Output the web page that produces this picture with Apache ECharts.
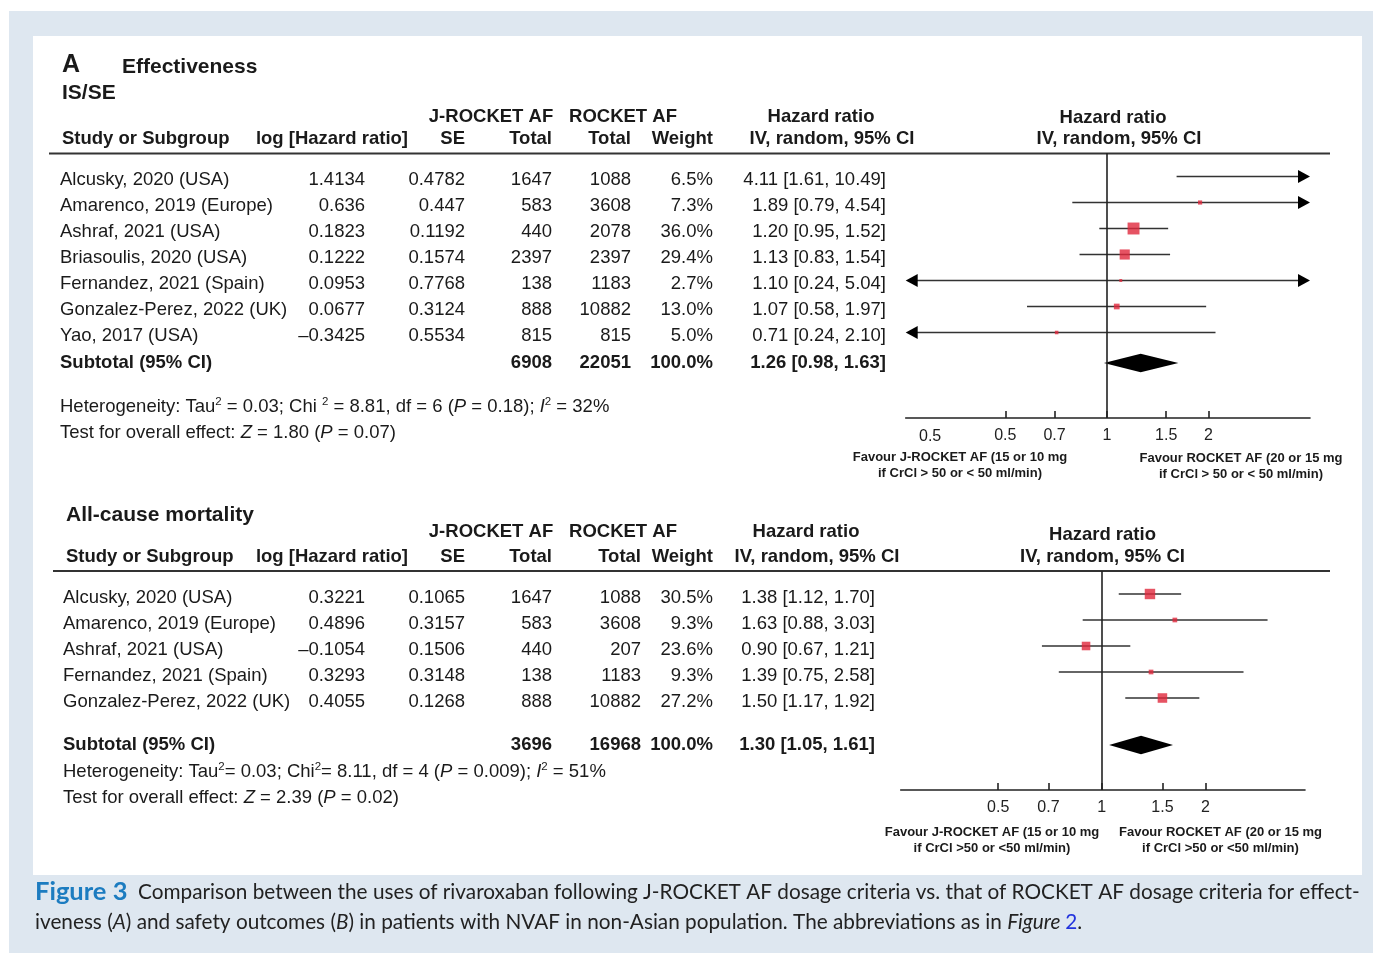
<!DOCTYPE html>
<html><head><meta charset="utf-8">
<script src="https://cdn.jsdelivr.net/npm/echarts@6/dist/echarts.min.js"></script>
<style>html,body{margin:0;padding:0;background:#fff}#c{width:1373px;height:953px}</style>
</head><body><div id="c"></div>
<script>
// ---------- Panel A: Effectiveness (IS/SE) ----------
const studiesA = ['Alcusky, 2020 (USA)', 'Amarenco, 2019 (Europe)', 'Ashraf, 2021 (USA)', 'Briasoulis, 2020 (USA)', 'Fernandez, 2021 (Spain)', 'Gonzalez-Perez, 2022 (UK)', 'Yao, 2017 (USA)'];
const logHRA = ['1.4134', '0.636', '0.1823', '0.1222', '0.0953', '0.0677', '\u20130.3425'];
const seA = ['0.4782', '0.447', '0.1192', '0.1574', '0.7768', '0.3124', '0.5534'];
const jTotalA = [1647, 583, 440, 2397, 138, 888, 815];
const rTotalA = [1088, 3608, 2078, 2397, 1183, 10882, 815];
const weightA = [6.5, 7.3, 36.0, 29.4, 2.7, 13.0, 5.0];
const hrA = [4.11, 1.89, 1.20, 1.13, 1.10, 1.07, 0.71];
const loA = [1.61, 0.79, 0.95, 0.83, 0.24, 0.58, 0.24];
const hiA = [10.49, 4.54, 1.52, 1.54, 5.04, 1.97, 2.10];
const subA = [6908, 22051, 100.0, 1.26, 0.98, 1.63]; // jTotal, rTotal, weight, hr, lo, hi

// ---------- Panel B: All-cause mortality ----------
const studiesB = ['Alcusky, 2020 (USA)', 'Amarenco, 2019 (Europe)', 'Ashraf, 2021 (USA)', 'Fernandez, 2021 (Spain)', 'Gonzalez-Perez, 2022 (UK)'];
const logHRB = ['0.3221', '0.4896', '\u20130.1054', '0.3293', '0.4055'];
const seB = ['0.1065', '0.3157', '0.1506', '0.3148', '0.1268'];
const jTotalB = [1647, 583, 440, 138, 888];
const rTotalB = [1088, 3608, 207, 1183, 10882];
const weightB = [30.5, 9.3, 23.6, 9.3, 27.2];
const hrB = [1.38, 1.63, 0.90, 1.39, 1.50];
const loB = [1.12, 0.88, 0.67, 0.75, 1.17];
const hiB = [1.70, 3.03, 1.21, 2.58, 1.92];
const subB = [3696, 16968, 100.0, 1.30, 1.05, 1.61];

const tickLabels = [0.5, 0.7, 1, 1.5, 2];

// ---------- layout ----------
const FONT = '"Liberation Sans", Arial, Helvetica, sans-serif';
const FS = 18.5;
const INK = '#1a1a1a';
const RED = '#e0283c';

const LA = {gridLeft: 905.7, gridW: 404.3, gridTop: 153, gridBottom: 418, row0: 176.5, rowH: 26, subY: 363, shift: 3.5,
  xmin: -1.373, xmax: 1.387,
  cols: {study: 60, log: 365, se: 465, j: 552, r: 631, w: 713, ci: 886}};
const LB = {gridLeft: 900.7, gridW: 404.3, gridTop: 571, gridBottom: 790, row0: 594, rowH: 26, subY: 745, shift: 4,
  xmin: -1.345, xmax: 1.359,
  cols: {study: 63, log: 365, se: 465, j: 552, r: 641, w: 713, ci: 875}};
[LA, LB].forEach(L => {
  L.ymin = -(L.row0 - L.gridTop) / L.rowH;
  L.ymax = L.ymin + (L.gridBottom - L.gridTop) / L.rowH;
  L.subIdx = (L.subY - L.row0) / L.rowH;
});

const G = [];
function T(x, y, text, o) {
  o = o || {};
  const st = {
    text: text, fill: o.color || INK, fontSize: o.size || FS, fontFamily: o.family || FONT,
    fontWeight: o.bold ? 'bold' : 'normal', fontStyle: o.italic ? 'italic' : 'normal',
    align: o.align || 'left', textAlign: o.align || 'left', verticalAlign: 'middle', textVerticalAlign: 'middle'
  };
  if (o.rich) st.rich = o.rich;
  G.push({type: 'text', x: x, y: y, z: 10, style: st});
}
function HL(x1, x2, y) {
  G.push({type: 'line', z: 5, shape: {x1: x1, y1: y, x2: x2, y2: y}, style: {stroke: '#333', lineWidth: 1.8}});
}

// backgrounds
G.push({type: 'rect', z: -20, shape: {x: 9, y: 11, width: 1364, height: 942}, style: {fill: '#dee7f0'}});
G.push({type: 'rect', z: -19, shape: {x: 33, y: 36, width: 1329, height: 839}, style: {fill: '#ffffff'}});

const fmtCI = (h, l, u) => h.toFixed(2) + ' [' + l.toFixed(2) + ', ' + u.toFixed(2) + ']';

function table(L, studies, logs, ses, jt, rt, ws, hrs, los, his, sub) {
  const c = L.cols;
  studies.forEach((s, i) => {
    const y = L.row0 + i * L.rowH + L.shift;
    T(c.study, y, s);
    T(c.log, y, logs[i], {align: 'right'});
    T(c.se, y, ses[i], {align: 'right'});
    T(c.j, y, String(jt[i]), {align: 'right'});
    T(c.r, y, String(rt[i]), {align: 'right'});
    T(c.w, y, ws[i].toFixed(1) + '%', {align: 'right'});
    T(c.ci, y, fmtCI(hrs[i], los[i], his[i]), {align: 'right'});
  });
  const y = L.subY;
  T(c.study, y, 'Subtotal (95% CI)', {bold: true});
  T(c.j, y, String(sub[0]), {align: 'right', bold: true});
  T(c.r, y, String(sub[1]), {align: 'right', bold: true});
  T(c.w, y, sub[2].toFixed(1) + '%', {align: 'right', bold: true});
  T(c.ci, y, fmtCI(sub[3], sub[4], sub[5]), {align: 'right', bold: true});
}

// ---- Panel A headings ----
T(62, 65, 'A', {bold: true, size: 25});
T(122, 67, 'Effectiveness', {bold: true, size: 21});
T(62, 93, 'IS/SE', {bold: true, size: 21});
T(491, 117, 'J-ROCKET AF', {bold: true, align: 'center'});
T(623, 117, 'ROCKET AF', {bold: true, align: 'center'});
T(821, 117, 'Hazard ratio', {bold: true, align: 'center'});
T(1113, 118, 'Hazard ratio', {bold: true, align: 'center'});
T(62, 139, 'Study or Subgroup', {bold: true});
T(408, 139, 'log [Hazard ratio]', {bold: true, align: 'right'});
T(465, 139, 'SE', {bold: true, align: 'right'});
T(552, 139, 'Total', {bold: true, align: 'right'});
T(631, 139, 'Total', {bold: true, align: 'right'});
T(713, 139, 'Weight', {bold: true, align: 'right'});
T(832, 139, 'IV, random, 95% CI', {bold: true, align: 'center'});
T(1119, 139, 'IV, random, 95% CI', {bold: true, align: 'center'});
HL(49, 1330, 153.5);
table(LA, studiesA, logHRA, seA, jTotalA, rTotalA, weightA, hrA, loA, hiA, subA);

const richH = {
  n: {fontSize: FS, fontFamily: FONT, fill: INK, lineHeight: 22},
  i: {fontSize: FS, fontFamily: FONT, fill: INK, fontStyle: 'italic', lineHeight: 22},
  s: {fontSize: 11.5, fontFamily: FONT, fill: INK, verticalAlign: 'top', lineHeight: 14}
};
T(60, 407, '{n|Heterogeneity: Tau}{s|2}{n| = 0.03; Chi }{s|2}{n| = 8.81, df = 6 (}{i|P}{n| = 0.18); }{i|I}{s|2}{n| = 32%}', {rich: richH});
T(60, 433, '{n|Test for overall effect: }{i|Z}{n| = 1.80 (}{i|P}{n| = 0.07)}', {rich: richH});
T(919, 437, '0.5', {size: 16});
T(960, 457, 'Favour J-ROCKET AF (15 or 10 mg', {bold: true, size: 13, align: 'center'});
T(960, 473, 'if CrCl > 50 or < 50 ml/min)', {bold: true, size: 13, align: 'center'});
T(1241, 458, 'Favour ROCKET AF (20 or 15 mg', {bold: true, size: 13, align: 'center'});
T(1241, 474, 'if CrCl > 50 or < 50 ml/min)', {bold: true, size: 13, align: 'center'});

// ---- Panel B headings ----
T(66, 515, 'All-cause mortality', {bold: true, size: 21});
T(491, 532, 'J-ROCKET AF', {bold: true, align: 'center'});
T(623, 532, 'ROCKET AF', {bold: true, align: 'center'});
T(806, 532, 'Hazard ratio', {bold: true, align: 'center'});
T(1102.5, 535, 'Hazard ratio', {bold: true, align: 'center'});
T(66, 557, 'Study or Subgroup', {bold: true});
T(408, 557, 'log [Hazard ratio]', {bold: true, align: 'right'});
T(465, 557, 'SE', {bold: true, align: 'right'});
T(552, 557, 'Total', {bold: true, align: 'right'});
T(641, 557, 'Total', {bold: true, align: 'right'});
T(713, 557, 'Weight', {bold: true, align: 'right'});
T(817, 557, 'IV, random, 95% CI', {bold: true, align: 'center'});
T(1102.5, 557, 'IV, random, 95% CI', {bold: true, align: 'center'});
HL(53, 1330, 571);
table(LB, studiesB, logHRB, seB, jTotalB, rTotalB, weightB, hrB, loB, hiB, subB);
T(63, 772, '{n|Heterogeneity: Tau}{s|2}{n|= 0.03; Chi}{s|2}{n|= 8.11, df = 4 (}{i|P}{n| = 0.009); }{i|I}{s|2}{n| = 51%}', {rich: richH});
T(63, 798, '{n|Test for overall effect: }{i|Z}{n| = 2.39 (}{i|P}{n| = 0.02)}', {rich: richH});
T(992, 832, 'Favour J-ROCKET AF (15 or 10 mg', {bold: true, size: 13, align: 'center'});
T(992, 848, 'if CrCl >50 or <50 ml/min)', {bold: true, size: 13, align: 'center'});
T(1220.5, 832, 'Favour ROCKET AF (20 or 15 mg', {bold: true, size: 13, align: 'center'});
T(1220.5, 848, 'if CrCl >50 or <50 ml/min)', {bold: true, size: 13, align: 'center'});

// ---- caption ----
const CAPF = 'Lato, "Open Sans", sans-serif';
const richC = {
  b: {fontSize: 25.5, fontFamily: CAPF, fontWeight: 'bold', fill: '#1c7cc0'},
  n: {fontSize: 20.75, fontFamily: CAPF, fill: '#222'},
  i: {fontSize: 20.75, fontFamily: CAPF, fill: '#222', fontStyle: 'italic'},
  l: {fontSize: 20.75, fontFamily: CAPF, fill: '#2233dd'}
};
T(35, 892, '{b|Figure 3}{n|  Comparison between the uses of rivaroxaban following J-ROCKET AF dosage criteria vs. that of ROCKET AF dosage criteria for effect-}', {rich: richC});
T(35, 922, '{n|iveness (}{i|A}{n|) and safety outcomes (}{i|B}{n|) in patients with NVAF in non-Asian population. The abbreviations as in }{i|Figure }{l|2}{n|.}', {rich: richC});

// ---------- series ----------
const AH = 12, AW = 6.5;

function ciSeries(gi, lo, hi) {
  return {
    type: 'custom', xAxisIndex: gi, yAxisIndex: gi, clip: false, z: 3, silent: true,
    data: lo.map((l, i) => [Math.log(l), Math.log(hi[i]), i]),
    encode: {x: [0, 1], y: 2},
    renderItem: function (params, api) {
      const cs = params.coordSys;
      const a = api.coord([api.value(0), api.value(2)]);
      const b = api.coord([api.value(1), api.value(2)]);
      const Lx = cs.x, Rx = cs.x + cs.width, y = a[1];
      const clipL = a[0] < Lx, clipR = b[0] > Rx;
      const x0 = Math.max(a[0], Lx), x1 = Math.min(b[0], Rx);
      const ch = [{type: 'line', shape: {x1: clipL ? x0 + AH - 1 : x0, y1: y, x2: clipR ? x1 - AH + 1 : x1, y2: y},
        style: {stroke: '#333', lineWidth: 1.6}}];
      if (clipL) ch.push({type: 'polygon', shape: {points: [[x0, y], [x0 + AH, y - AW], [x0 + AH, y + AW]]}, style: {fill: '#000'}});
      if (clipR) ch.push({type: 'polygon', shape: {points: [[x1, y], [x1 - AH, y - AW], [x1 - AH, y + AW]]}, style: {fill: '#000'}});
      return {type: 'group', children: ch};
    }
  };
}
function squareSeries(gi, hr, w) {
  return {
    type: 'scatter', xAxisIndex: gi, yAxisIndex: gi, z: 4, silent: true, clip: true,
    data: hr.map((h, i) => [Math.log(h), i, w[i]]),
    symbol: 'rect', symbolSize: v => 2.2 + 0.27 * v[2],
    itemStyle: {color: RED},
    markLine: {silent: true, symbol: ['none', 'none'], label: {show: false},
      lineStyle: {color: '#222', width: 1.6, type: 'solid'}, data: [{xAxis: 0}]}
  };
}
function diamondSeries(gi, sub, idx) {
  return {
    type: 'custom', xAxisIndex: gi, yAxisIndex: gi, clip: false, z: 4, silent: true,
    data: [[Math.log(sub[4]), Math.log(sub[5]), Math.log(sub[3]), idx]],
    encode: {x: [0, 1, 2], y: 3},
    renderItem: function (params, api) {
      const l = api.coord([api.value(0), api.value(3)]);
      const h = api.coord([api.value(1), api.value(3)]);
      const m = api.coord([api.value(2), api.value(3)]);
      const y = m[1], H = 9.2;
      return {type: 'polygon', shape: {points: [[l[0], y], [m[0], y - H], [h[0], y], [m[0], y + H]]}, style: {fill: '#000'}};
    }
  };
}
const tickVals = tickLabels.map(Math.log);
function xAxis(gi, L) {
  return {
    gridIndex: gi, type: 'value', min: L.xmin, max: L.xmax, position: 'bottom', z: 20,
    axisLine: {show: true, onZero: false, lineStyle: {color: '#222', width: 1.6}},
    axisTick: {show: true, inside: true, length: 7, customValues: tickVals, lineStyle: {color: '#222', width: 1.6}},
    axisLabel: {show: true, customValues: tickVals, color: '#222', fontSize: 16, fontFamily: FONT, margin: 10,
      formatter: function (v) {
        for (let k = 0; k < tickVals.length; k++) if (Math.abs(tickVals[k] - v) < 1e-6) return String(tickLabels[k]);
        return '';
      }},
    splitLine: {show: false}
  };
}
function yAxis(gi, L) {
  return {gridIndex: gi, type: 'value', inverse: true, min: L.ymin, max: L.ymax, show: false,
    axisLine: {show: false}, splitLine: {show: false}};
}

const chart = echarts.init(document.getElementById('c'), null, {renderer: 'canvas'});
chart.setOption({
  animation: false,
  backgroundColor: '#ffffff',
  grid: [
    {left: LA.gridLeft, top: LA.gridTop, width: LA.gridW, height: LA.gridBottom - LA.gridTop},
    {left: LB.gridLeft, top: LB.gridTop, width: LB.gridW, height: LB.gridBottom - LB.gridTop}
  ],
  xAxis: [xAxis(0, LA), xAxis(1, LB)],
  yAxis: [yAxis(0, LA), yAxis(1, LB)],
  series: [
    ciSeries(0, loA, hiA), squareSeries(0, hrA, weightA), diamondSeries(0, subA, LA.subIdx),
    ciSeries(1, loB, hiB), squareSeries(1, hrB, weightB), diamondSeries(1, subB, LB.subIdx)
  ],
  graphic: {elements: G}
});
</script></body></html>
